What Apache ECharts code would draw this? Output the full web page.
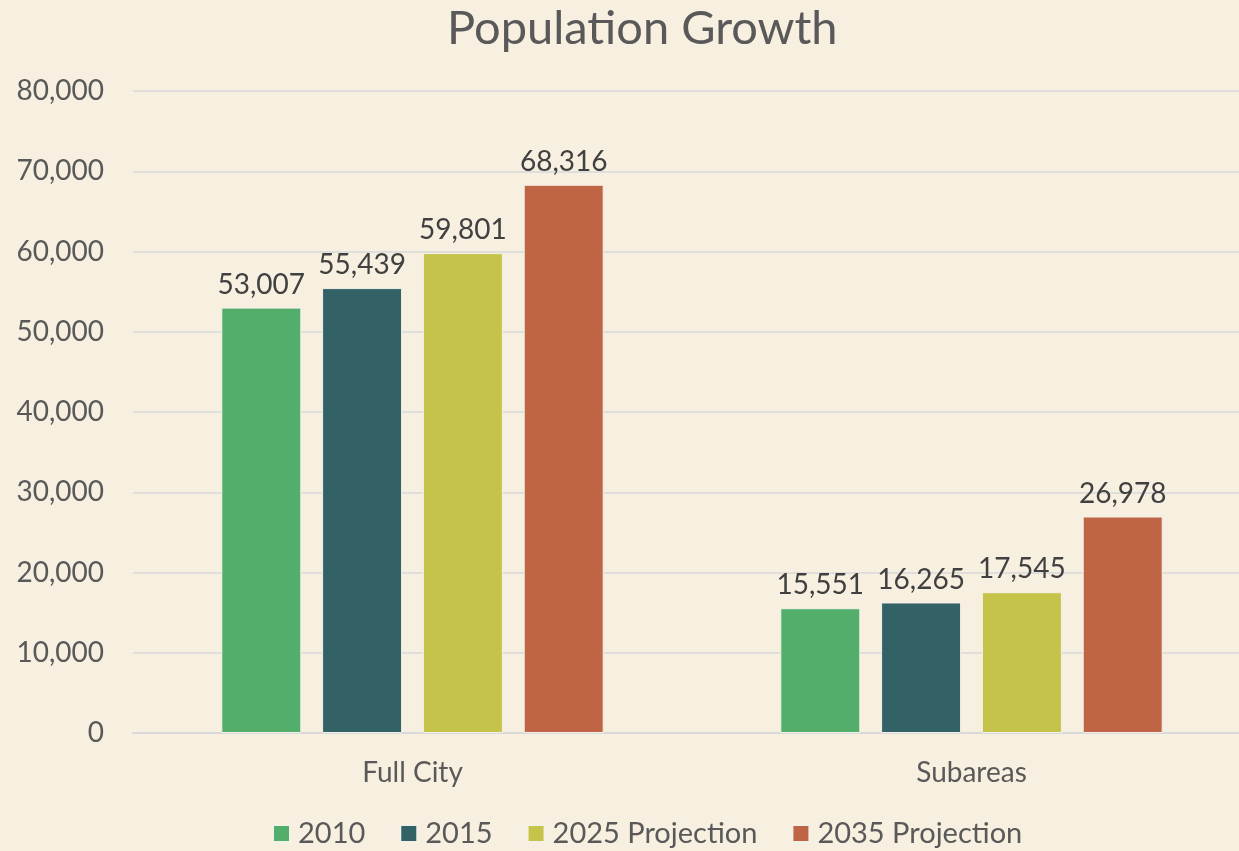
<!DOCTYPE html>
<html>
<head>
<meta charset="utf-8">
<script src="https://cdn.jsdelivr.net/npm/echarts@6/dist/echarts.min.js"></script>
<style>
  html, body { margin: 0; padding: 0; background: #F7EFDF; }
  #main { width: 1239px; height: 851px; }
</style>
</head>
<body>
<div id="main"></div>
<script>
// data
var categories = ['Full City', 'Subareas'];
var seriesNames = ['2010', '2015', '2025 Projection', '2035 Projection'];
var pop2010 = [53007, 15551];
var pop2015 = [55439, 16265];
var pop2025 = [59801, 17545];
var pop2035 = [68316, 26978];
var colors = ['#53AE6C', '#326166', '#C6C34A', '#BF6546'];

var values = [pop2010, pop2015, pop2025, pop2035];
var fontName = 'Lato, "Open Sans", sans-serif';

var series = [];
for (var i = 0; i < seriesNames.length; i++) {
  series.push({
    name: seriesNames[i],
    type: 'bar',
    data: values[i],
    barWidth: 80,
    barGap: '26%',
    itemStyle: { color: colors[i], borderColor: '#F4F1E6', borderWidth: 1 },
    label: {
      show: true,
      position: 'top',
      distance: 9,
      fontSize: 28,
      fontFamily: fontName,
      color: '#404040',
      formatter: function (p) { return p.value.toLocaleString('en-US'); }
    }
  });
}

var option = {
  backgroundColor: '#F7EFDF',
  color: colors,
  textStyle: { fontFamily: fontName },
  title: {
    text: 'Population Growth',
    left: 442,
    top: 0,
    textStyle: { fontSize: 47, fontWeight: 'normal', color: '#595959', fontFamily: fontName }
  },
  legend: {
    bottom: -2,
    left: 267,
    itemWidth: 17,
    itemHeight: 17,
    itemGap: 34,
    icon: 'rect',
    textStyle: { fontSize: 29, color: '#595959', fontFamily: fontName, padding: [0, 0, 0, 3] },
    data: seriesNames
  },
  grid: { left: 133, top: 91, width: 1118, bottom: 118, outerBoundsMode: 'none', containLabel: false },
  xAxis: {
    type: 'category',
    data: categories,
    axisLine: { lineStyle: { color: '#D9D9D9', width: 2 } },
    axisTick: { show: false },
    axisLabel: { fontSize: 28, color: '#595959', margin: 26, fontFamily: fontName }
  },
  yAxis: {
    type: 'value',
    min: 0,
    max: 80000,
    interval: 10000,
    axisLine: { show: false },
    axisTick: { show: false },
    splitLine: { lineStyle: { color: '#D9D9D9', width: 1.5 } },
    axisLabel: {
      fontSize: 28, color: '#595959', margin: 29, fontFamily: fontName,
      formatter: function (v) { return v.toLocaleString('en-US'); }
    }
  },
  series: series
};

var myChart = echarts.init(document.getElementById('main'));
myChart.setOption(option, true);
</script>
</body>
</html>
